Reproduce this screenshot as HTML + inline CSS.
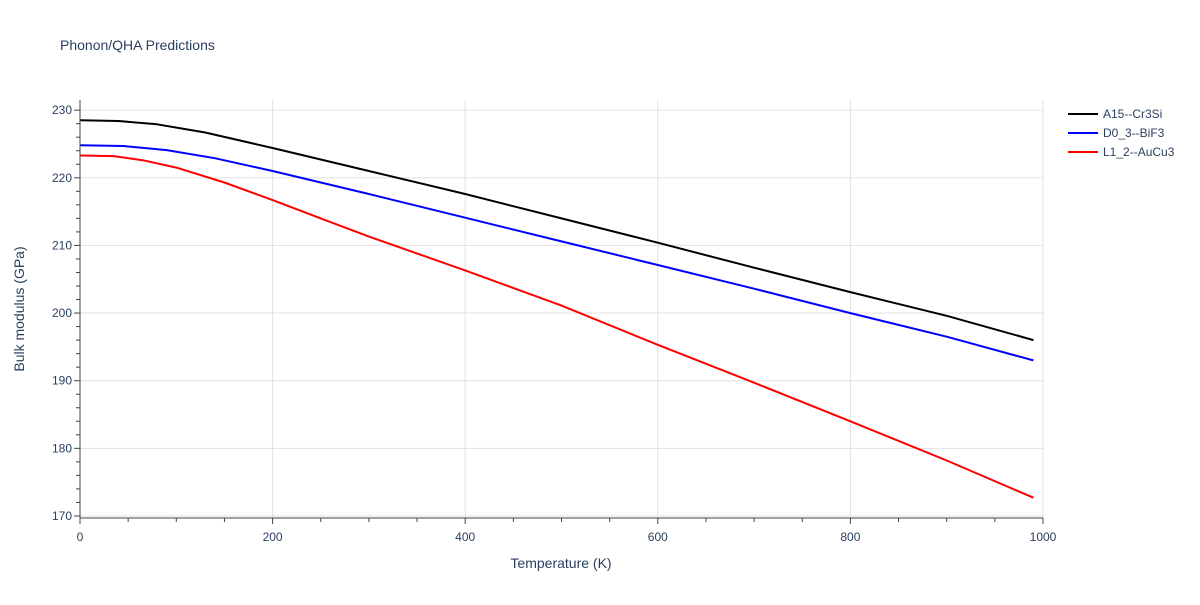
<!DOCTYPE html>
<html><head><meta charset="utf-8">
<style>
body{margin:0;background:#fff;font-family:"Liberation Sans",sans-serif;}
svg text{font-family:"Liberation Sans",sans-serif;}
</style></head>
<body>
<svg id="chart" width="1200" height="600" xmlns="http://www.w3.org/2000/svg">
<rect width="1200" height="600" fill="#fff"/>
<text x="60" y="50" font-size="14" fill="#2a3f5f">Phonon/QHA Predictions</text>
<g id="grid"></g>
<g id="series"></g>
<g id="axes"></g>
<g id="legend"></g>
<text x="561" y="568" font-size="14" fill="#2a3f5f" text-anchor="middle">Temperature (K)</text>
<text transform="translate(24,309) rotate(-90)" font-size="14" fill="#2a3f5f" text-anchor="middle">Bulk modulus (GPa)</text>
</svg>
<script>
const xTicks=[0,200,400,600,800,1000];
const yTicks=[170,180,190,200,210,220,230];
const seriesNames=["A15--Cr3Si","D0_3--BiF3","L1_2--AuCu3"];
const seriesColors=["#000000","#0000ff","#ff0000"];
const blackT=[0,40,80,130,200,300,400,500,600,700,800,900,990];
const blackV=[228.5,228.4,227.9,226.7,224.4,221.0,217.6,214.0,210.4,206.7,203.1,199.6,196.0];
const blueT=[0,45,90,140,200,300,400,500,600,700,800,900,990];
const blueV=[224.8,224.7,224.1,222.9,221.0,217.6,214.1,210.6,207.1,203.6,200.0,196.5,193.0];
const redT=[0,35,65,100,150,200,250,300,400,500,600,700,800,900,990];
const redV=[223.3,223.2,222.6,221.5,219.3,216.7,214.0,211.3,206.3,201.1,195.3,189.7,184.0,178.2,172.7];

const X0=80,X1=1043,Y0=518,Y1=100;
const xmin=0,xmax=1000,ymin=169.7,ymax=231.5;
const xs=v=>X0+(v-xmin)/(xmax-xmin)*(X1-X0);
const ys=v=>Y0-(v-ymin)/(ymax-ymin)*(Y0-Y1);
const NS="http://www.w3.org/2000/svg";
function mk(tag,parent,attrs){const e=document.createElementNS(NS,tag);for(const k in attrs)e.setAttribute(k,attrs[k]);parent.appendChild(e);return e;}
const grid=document.getElementById('grid'),axes=document.getElementById('axes'),ser=document.getElementById('series'),leg=document.getElementById('legend');

xTicks.forEach(t=>{
  if(t>0){const l=mk('line',grid,{x1:xs(t),x2:xs(t),y1:Y1,y2:Y0,stroke:'#e1e1e1'});
  }
  const tx=mk('text',axes,{x:xs(t),y:Y0+23,'font-size':12,fill:'#2a3f5f','text-anchor':'middle'});
  tx.textContent=t;
  
});
for(let t=0;t<=1000;t+=50){mk('line',axes,{x1:xs(t),x2:xs(t),y1:Y0,y2:Y0+(t%200===0?6:4),stroke:'#444'});}
yTicks.forEach(t=>{
  const l=mk('line',grid,{x1:X0,x2:X1,y1:ys(t),y2:ys(t),stroke:'#e1e1e1'});
  
  const tx=mk('text',axes,{x:X0-8,y:ys(t)+4,'font-size':12,fill:'#2a3f5f','text-anchor':'end'});
  tx.textContent=t;
  
});
for(let t=170;t<=231;t+=2){mk('line',axes,{x1:X0,x2:X0-(t%10===0?6:4),y1:ys(t),y2:ys(t),stroke:'#444'});}
const xa=mk('line',axes,{x1:X0,x2:X1,y1:Y0,y2:Y0,stroke:'#444'});

const ya=mk('line',axes,{x1:X0,x2:X0,y1:Y1,y2:Y0,stroke:'#444'});


const data=[[blackT,blackV],[blueT,blueV],[redT,redV]];
data.forEach((d,i)=>{
  const pts=d[0].map((t,j)=>xs(t).toFixed(1)+','+ys(d[1][j]).toFixed(1)).join(' ');
  const p=mk('polyline',ser,{points:pts,fill:'none',stroke:seriesColors[i],'stroke-width':2,'stroke-linejoin':'round'});
  
  
  const y=114+i*19;
  const g=mk('g',leg,{});
  
  
  mk('line',g,{x1:1068,x2:1098,y1:y,y2:y,stroke:seriesColors[i],'stroke-width':2});
  const tx=mk('text',g,{x:1103,y:y+4,'font-size':12,fill:'#2a3f5f'});
  tx.textContent=seriesNames[i];
});
</script>
</body></html>
